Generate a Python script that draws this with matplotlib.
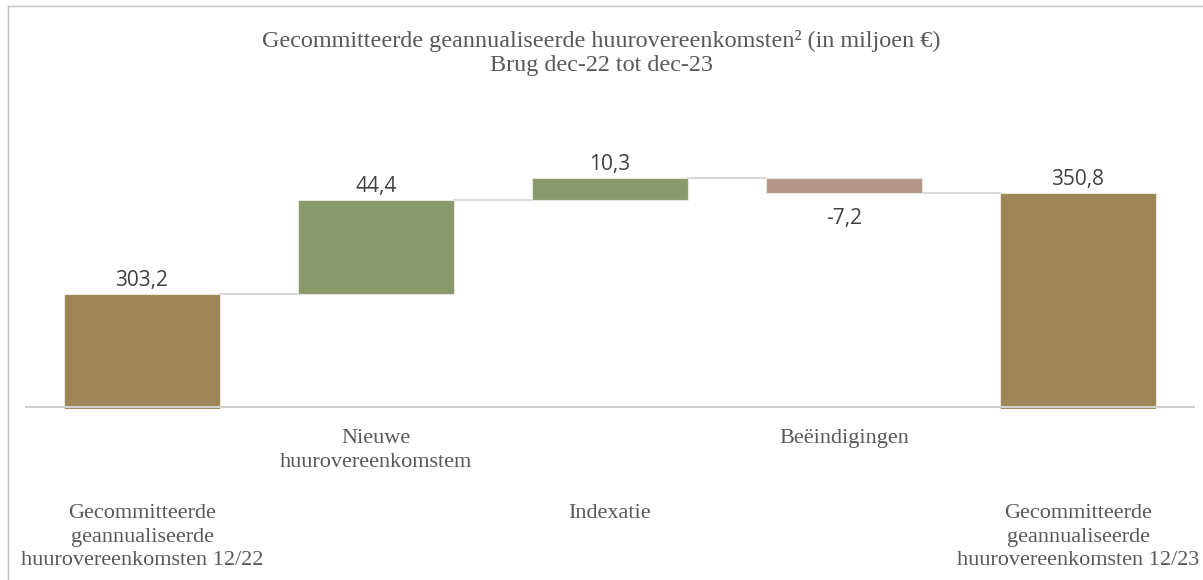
import matplotlib.pyplot as plt
from matplotlib.lines import Line2D

categories = [
    "Gecommitteerde\ngeannualiseerde\nhuurovereenkomsten 12/22",
    "Nieuwe\nhuurovereenkomstem",
    "Indexatie",
    "Beëindigingen",
    "Gecommitteerde\ngeannualiseerde\nhuurovereenkomsten 12/23",
]
values = [303.2, 44.4, 10.3, -7.2, 350.8]
is_total = [True, False, False, False, True]
labels = ["303,2", "44,4", "10,3", "-7,2", "350,8"]

col_total = "#9C8656"
col_up = "#8A996C"
col_down = "#B5968A"
grey = "#595959"

ymin, ymax = 249, 385.2

fig = plt.figure(figsize=(12.03, 5.8), dpi=100)
ax = fig.add_axes([25 / 1203, 1 - 409 / 580, 1170 / 1203, 289 / 580])

running = 0
tops = []
for i, (v, tot) in enumerate(zip(values, is_total)):
    if tot:
        bottom, height = ymin, v - ymin
        color = col_total
        running = v
    else:
        if v >= 0:
            bottom, height = running, v
            color = col_up
        else:
            bottom, height = running + v, -v
            color = col_down
        running = running + v
    ax.bar(i, height, bottom=bottom, width=0.667, color=color,
           edgecolor="#E8E4DA", linewidth=0.8, zorder=2)
    tops.append(running)
    if v >= 0:
        ax.annotate(labels[i], (i, bottom + height), xytext=(0, 2),
                    textcoords="offset points", ha="center", va="bottom",
                    fontsize=15, color="#404040", family="Open Sans")
    else:
        ax.annotate(labels[i], (i, bottom), xytext=(0, -11),
                    textcoords="offset points", ha="center", va="top",
                    fontsize=15, color="#404040", family="Open Sans")

# connector lines
for i in range(len(values) - 1):
    ax.plot([i + 0.333, i + 1 - 0.333], [tops[i], tops[i]],
            color="#D9D9D9", lw=1.5, zorder=1)

ax.axhline(250, color="#D0D0D0", lw=1.5, zorder=3)

ax.set_xlim(-0.5, 4.5)
ax.set_ylim(ymin, ymax)
ax.axis("off")

# staggered category labels
label_y = [512, 437, 512, 437, 512]
for i, (c, ly) in enumerate(zip(categories, label_y)):
    xp = (142 + 234 * i) / 1203
    fig.text(xp, 1 - (ly - 8) / 580, c, ha="center", va="top",
             fontsize=16, color=grey, family="Liberation Serif",
             linespacing=1.33)

fig.text(0.5, 1 - 41 / 580,
         "Gecommitteerde geannualiseerde huurovereenkomsten² (in miljoen €)",
         ha="center", va="center", fontsize=17.4, color=grey,
         family="Liberation Serif")
fig.text(0.5, 1 - 66 / 580, "Brug dec-22 tot dec-23", ha="center",
         va="center", fontsize=17.4, color=grey, family="Liberation Serif")

# chart border (top and left visible)
fig.add_artist(Line2D([8 / 1203, 1], [1 - 6 / 580, 1 - 6 / 580],
                      transform=fig.transFigure, color="#BFBFBF", lw=1))
fig.add_artist(Line2D([8 / 1203, 8 / 1203], [0, 1 - 6 / 580],
                      transform=fig.transFigure, color="#BFBFBF", lw=1))

fig.savefig("out.png", dpi=100)
